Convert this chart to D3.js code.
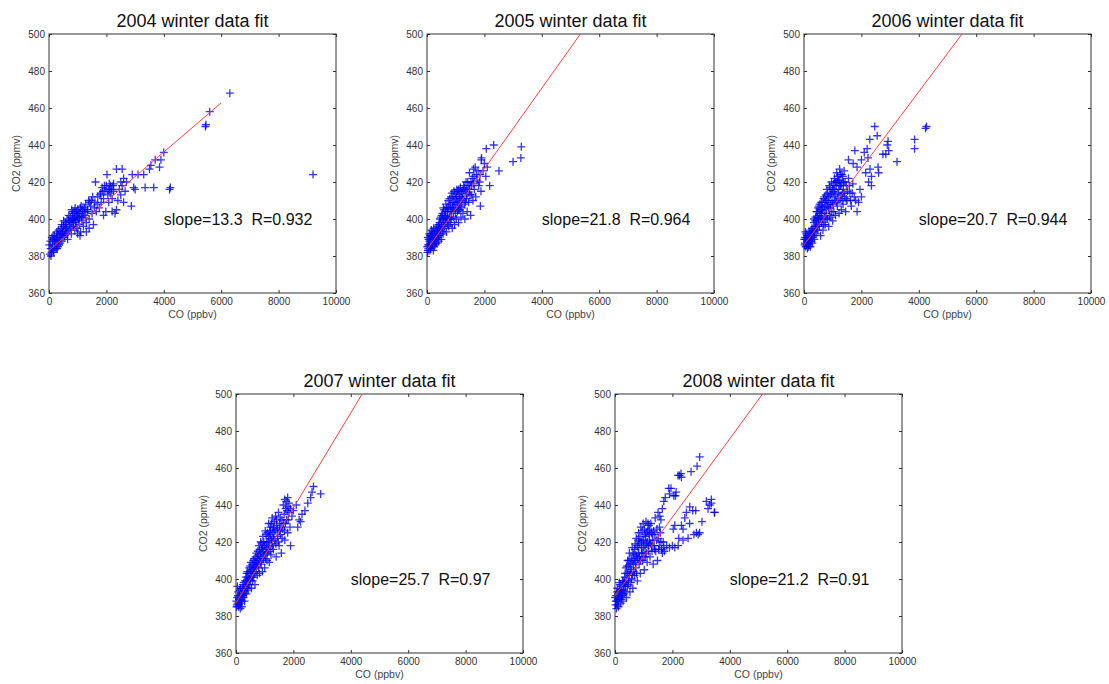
<!DOCTYPE html>
<html>
<head>
<meta charset="utf-8">
<script src="https://cdn.jsdelivr.net/npm/d3@7"></script>
<style>
  html, body { margin: 0; padding: 0; background: #fff; }
  svg { display: block; }
  text { font-family: Arial, "Liberation Sans", sans-serif; }
</style>
</head>
<body>
<svg id="chart" width="1109" height="684"></svg>
<script>
// ---------- DATA ----------
const years = ["2004", "2005", "2006", "2007", "2008"];
const slopes = [13.3, 21.8, 20.7, 25.7, 21.2];
const rValues = ["0.932", "0.964", "0.944", "0.97", "0.91"];
// fit line intercepts (ppmv at CO = 0) and end of the drawn fit (ppbv)
const intercepts = [383, 383.5, 386, 387, 391];
const fitEnds = [6000, 10000, 10000, 10000, 10000];

const xTicks = [0, 2000, 4000, 6000, 8000, 10000];
const yTicks = [360, 380, 400, 420, 440, 460, 480, 500];

const pts2004 = [
  [30,381],[60,384],[90,382],[120,386],[150,383],[180,388],[200,385],[50,388],[100,390],[140,391],
  [230,387],[260,390],[280,384],[300,392],[320,388],[350,386],[380,393],[400,390],[420,395],[450,388],
  [470,392],[500,396],[520,390],[550,394],[580,398],[600,392],[620,396],[650,389],[680,399],[700,394],
  [720,397],[750,401],[780,392],[800,398],[820,403],[850,396],[870,400],[900,404],[920,398],[950,402],
  [970,395],[1000,405],[1020,400],[1050,397],[1080,403],[1100,393],[1120,407],[1150,399],[1180,404],[1200,396],
  [900,394],[1000,392],[1080,391],[1250,402],[1280,408],[1300,398],[1350,405],[1380,410],[1400,400],[1450,407],
  [1500,403],[1520,412],[1550,397],[1600,409],[1620,420],[1650,404],[1700,412],[1400,395],[1300,393],
  [1750,406],[1800,414],[1820,409],[1850,417],[1900,411],[1950,415],[1980,404],[2000,418],[2020,424],[2050,413],
  [2080,409],[2100,416],[2150,418],[2200,411],[2250,415],[2300,403],[2350,405],[1900,402],[2100,419],[2250,419],
  [2200,404],[2350,427],[2550,427],[2400,410],[2450,416],[2500,413],[2550,418],[2600,422],[2650,415],[2700,420],
  [2600,409],[2500,420],[2870,407],[2950,417],[3000,416],[2900,424],[3100,424],[3300,424],[3550,429],[3350,417],
  [3650,417],[3850,428],[3900,432],[4000,436],[3700,432],[3500,427],[4200,416],[4230,417],[5450,450],[5470,451],
  [5600,458],[6300,468],[9200,424],
  [10,386],[70,380],[110,384],[130,389],[170,382],[190,391],[210,389],[250,384],[270,393],[290,388],
  [310,385],[330,394],[360,390],[390,387],[410,392],[440,397],[460,391],[490,393],[510,399],[540,391],
  [560,397],[590,395],[630,400],[660,393],[690,402],[730,399],[760,395],[790,405],[810,400],[840,404],
  [860,398],[890,401],[910,406],[940,399],[960,404],[990,401],[1030,403],[1060,401],[1090,406],[1130,401],
  [1160,405],[1190,401],[1230,406],[1260,404],[1330,404],[1420,409],[1480,410],[1580,406],[1680,408],[1780,413],
  [1880,415],[1930,418],[2060,416],[2130,414],[2180,416],[2230,418]
];
const pts2005 = [
  [20,382],[40,386],[60,389],[80,392],[30,390],[100,383],[120,387],[140,391],[160,385],[180,389],
  [200,393],[220,383],[240,388],[260,392],[280,386],[300,390],[320,395],[340,387],[360,393],[380,389],
  [400,397],[50,384],[150,394],[250,385],
  [420,391],[440,398],[460,394],[480,401],[500,389],[520,396],[540,403],[560,392],[580,399],[600,405],
  [620,395],[640,401],[660,408],[680,393],[700,398],[720,404],[740,410],[760,396],[780,401],[800,407],
  [820,398],[840,412],[860,404],[880,395],[900,409],[920,401],[940,415],[960,397],[980,406],[1000,411],
  [1020,400],[1040,416],[1060,404],[1080,409],[1100,398],[1120,413],[1140,405],[1160,417],[1180,401],[1200,410],
  [1220,414],[1250,403],[1280,418],[1300,408],[1320,400],[1350,415],[1380,411],[1400,404],[1420,420],[1450,409],
  [1480,425],[1500,413],[1520,402],[1550,418],[1580,422],[1600,410],
  [1620,427],[1650,416],[1680,428],[1700,412],[1750,421],[1800,418],[1850,424],[1880,415],[1900,433],[1950,426],
  [1860,407],[2000,430],[2066,438],[2100,428],[2184,418],[2050,423],
  [2324,440],[2509,426],[2997,431],[3270,433],[3286,439],[1893,432],
  [10,385],[30,383],[70,386],[90,388],[110,391],[130,384],[170,392],[190,386],[210,390],[230,395],
  [270,389],[290,393],[310,387],[330,391],[350,396],[370,390],[390,394],[410,388],[430,395],[450,400],
  [470,392],[490,397],[510,402],[530,393],[550,400],[570,406],[590,396],[610,402],[630,398],[650,404],
  [670,400],[690,406],[710,401],[730,397],[750,406],[770,400],[790,411],[810,404],[830,408],[850,400],
  [870,414],[890,406],[910,412],[930,405],[950,409],[970,414],[990,403],[1010,408],[1030,412],[1050,409],
  [1070,415],[1090,405],[1110,416],[1130,409],[1150,412],[1170,407],[1190,415],[1210,406],[1240,411],[1260,416],
  [1290,412],[1310,417],[1340,409],[1360,420],[1390,416],[1430,414],[1460,418],[1490,416],[1530,420],[1560,413],
  [1610,419],[1640,423],[1720,424],[1780,426],[1830,420]
];
const pts2006 = [
  [20,386],[40,390],[60,385],[80,392],[100,388],[120,384],[140,391],[160,387],[180,393],[200,389],
  [220,385],[240,392],[260,388],[280,395],[300,390],[50,393],[150,385],
  [320,394],[340,398],[360,389],[380,396],[400,401],[420,392],[440,399],[460,404],[480,394],[500,400],
  [520,407],[540,396],[560,403],[580,391],[600,409],[620,398],[640,405],[660,394],[680,411],[700,401],
  [720,407],[740,397],[760,413],[780,403],[800,416],[820,400],[840,410],[860,396],[880,418],[900,406],
  [920,413],[940,401],[960,420],[980,409],[1000,399],[1020,415],[1040,404],[1060,422],[1080,410],[1100,402],
  [1120,418],[1140,425],[1160,407],[1180,414],[1200,421],[1220,403],[1240,427],[1260,411],[1280,418],[1300,405],
  [1320,424],[1340,414],[1360,408],[1380,420],[1400,426],[1420,412],[1450,404],[1480,418],[1500,410],[1550,422],
  [1600,414],[1650,407],[1700,419],[1750,412],[1713,430],[1771,437],[1800,410],[1850,404],[1900,409],[2002,412],
  [1550,432],[1950,416],[2100,436],[2200,438],[2292,443],[2250,420],[2350,423],[2350,418],[2465,450],[2550,445],
  [2581,428],[2600,425],[2230,433],[2000,432],[1850,428],[2150,425],[2300,427],
  [2750,435],[2850,435],[2928,442],[2950,437],[2900,440],[3240,431],[3854,443],[3854,438],[4236,449],[4270,450],
  [10,389],[30,387],[70,389],[90,386],[110,391],[130,387],[170,390],[190,386],[210,392],[230,388],
  [250,394],[270,391],[290,387],[310,393],[330,391],[350,400],[370,393],[390,399],[410,396],[430,404],
  [450,396],[470,401],[490,406],[510,397],[530,402],[550,408],[570,400],[590,405],[610,403],[630,409],
  [650,400],[670,406],[690,397],[710,412],[730,403],[750,409],[770,400],[790,410],[810,407],[830,414],
  [850,406],[870,412],[890,402],[910,417],[930,408],[950,414],[970,404],[990,416],[1010,408],[1030,419],
  [1050,412],[1070,416],[1090,420],[1110,413],[1130,409],[1150,420],[1170,423],[1190,410],[1210,416],[1230,421],
  [1250,418],[1270,424],[1290,413],[1310,419],[1330,410],[1350,423],[1370,416],[1390,414],[1430,420],[1470,411],
  [1520,415],[1580,418],[1620,410],[1680,414]
];
const pts2007 = [
  [20,385],[40,390],[60,387],[80,393],[100,386],[120,391],[140,388],[160,395],[180,389],[200,385],
  [220,392],[240,397],[260,390],[280,394],[300,388],[50,396],[150,384],
  [320,396],[340,401],[360,392],[380,399],[400,404],[420,394],[440,400],[460,406],[480,397],[500,403],
  [520,409],[540,395],[560,405],[580,399],[600,410],[620,401],[640,407],[660,397],[680,412],[700,404],
  [720,409],[740,402],[760,415],[780,406],[800,418],[820,403],[840,412],[860,420],[880,408],[900,416],
  [920,404],[940,423],[960,411],[980,418],[1000,406],[1020,426],[1040,414],[1060,420],[1080,410],[1100,425],
  [1120,416],[1140,430],[1160,409],[1180,422],[1200,428],[1220,413],[1240,419],[1260,433],[1280,425],[1300,416],
  [1320,427],[1350,421],[1380,434],[1400,412],[1420,429],[1450,423],[1480,436],[1500,418],[1520,430],[1550,424],
  [1580,414],[1600,432],
  [1620,427],[1650,440],[1680,435],[1700,443],[1720,430],[1750,442],[1780,437],[1800,444],[1820,432],[1850,441],
  [1700,421],[1800,425],[1880,428],[1900,418],[1950,434],[2000,437],[1900,438],
  [2100,440],[2150,428],[2200,432],[2300,435],[2400,437],[2500,441],[2600,444],[2650,447],[2700,450],[2950,446],
  [2250,431],
  [10,388],[30,386],[70,391],[90,385],[110,389],[130,394],[170,387],[190,392],[210,388],[230,395],
  [250,391],[270,398],[290,392],[310,399],[330,393],[350,397],[370,403],[390,395],[410,401],[430,397],
  [450,403],[470,400],[490,407],[510,399],[530,404],[550,401],[570,408],[590,403],[610,406],[630,411],
  [650,403],[670,409],[690,406],[710,414],[730,407],[750,411],[770,408],[790,413],[810,410],[830,416],
  [850,409],[870,414],[890,419],[910,411],[930,417],[950,415],[970,420],[990,413],[1010,418],[1030,411],
  [1050,424],[1070,417],[1090,414],[1110,420],[1130,423],[1150,418],[1170,426],[1190,415],[1210,424],[1230,430],
  [1250,421],[1270,418],[1290,428],[1310,422],[1330,431],[1360,426],[1390,419],[1410,432],[1440,427],[1470,420],
  [1510,426],[1540,433],[1570,428],[1610,422],[1660,430],[1690,426],[1730,438],[1760,432],[1810,439],[1840,436]
];
const pts2008 = [
  [20,386],[40,391],[60,388],[80,395],[100,389],[120,385],[140,393],[160,390],[180,397],[200,387],
  [220,394],[240,391],[260,399],[280,388],[300,396],[50,384],[150,398],
  [320,392],[340,401],[360,396],[380,406],[400,390],[420,403],[440,410],[460,397],[480,407],[500,414],
  [520,393],[540,404],[560,411],[580,400],[600,417],[620,395],[640,408],[660,414],[680,402],[700,419],
  [720,406],[740,422],[760,412],[780,399],[800,417],[820,425],[840,408],[860,419],[880,403],[900,428],
  [920,414],[940,421],[960,410],[980,430],[1000,417],[1020,405],[1040,424],[1060,412],[1080,431],[1100,419],
  [1120,409],[1140,426],[1160,415],[1180,429],[1200,421],
  [1220,412],[1250,430],[1280,418],[1300,424],[1330,408],[1350,426],[1380,416],[1400,433],[1450,421],[1480,410],
  [1500,436],[1520,416],[1550,428],[1600,420],[1650,438],[1700,442],[1700,417],[1650,414],
  [1800,418],[1900,417],[2000,418],[2083,417],[2200,418],[2222,422],[2370,421],[2546,422],
  [2030,427],[2083,429],[2315,429],[2370,427],[2430,433],[2488,436],[2604,439],[2708,437],[2813,437],[2600,430],
  [3030,431],[2750,424],[2836,425],[2900,424],[2950,425],
  [3183,442],[3241,438],[3358,443],[3357,441],[3460,436],[3472,436],[3300,440],
  [1750,444],[1875,449],[1950,449],[1900,446],[2050,445],[2106,445],[2130,447],[2200,456],[2250,456],[2300,457],
  [2315,455],[2650,458],[2860,461],[2950,466],
  [10,390],[30,388],[70,393],[90,386],[110,392],[130,389],[170,394],[190,391],[210,396],[230,389],
  [250,394],[270,392],[290,399],[310,394],[330,398],[350,403],[370,393],[390,399],[410,407],[430,396],
  [450,403],[470,399],[490,410],[510,402],[530,408],[550,398],[570,405],[590,410],[610,402],[630,413],
  [650,404],[670,410],[690,416],[710,409],[730,413],[750,403],[770,418],[790,411],[810,421],[830,414],
  [850,412],[870,423],[890,410],[910,420],[930,417],[950,426],[970,414],[990,421],[1010,412],[1030,427],
  [1050,418],[1070,423],[1090,414],[1110,425],[1130,420],[1150,430],[1170,418],[1190,424],[1210,427],[1240,419],
  [1270,425],[1290,415],[1320,421],[1360,418],[1390,424],[1420,415],[1460,427],[1510,422],[1540,418],[1580,425],
  [1620,416],[1680,420],[1720,415],[1600,432],[1560,434]
];
const pointSets = [pts2004, pts2005, pts2006, pts2007, pts2008];

// ---------- LAYOUT ----------
const panels = [
  {left: 49,  top: 34},
  {left: 427, top: 34},
  {left: 804, top: 34},
  {left: 236, top: 394},
  {left: 615, top: 394}
];
const W = 287, H = 259;

const svg = d3.select("#chart");
svg.append("rect").attr("width", 1109).attr("height", 684).attr("fill", "#fff");

const plus = "M-4,0H4M0,-4V4";

panels.forEach((p, i) => {
  const g = svg.append("g").attr("transform", `translate(${p.left},${p.top})`);
  const x = d3.scaleLinear().domain([0, 10000]).range([0, W]);
  const y = d3.scaleLinear().domain([360, 500]).range([H, 0]);

  // axes (inward ticks)
  const ax = g.append("g").attr("transform", `translate(0,${H})`)
    .call(d3.axisBottom(x).tickValues(xTicks).tickFormat(d3.format("d")).tickSize(-3).tickPadding(5));
  const ay = g.append("g")
    .call(d3.axisLeft(y).tickValues(yTicks).tickFormat(d3.format("d")).tickSize(-3).tickPadding(4));
  const at = g.append("g")
    .call(d3.axisTop(x).tickValues(xTicks).tickFormat("").tickSize(-3));
  const ar = g.append("g").attr("transform", `translate(${W},0)`)
    .call(d3.axisRight(y).tickValues(yTicks).tickFormat("").tickSize(-3));
  [ax, ay, at, ar].forEach(a => {
    a.select(".domain").remove();
    a.selectAll(".tick line").attr("stroke", "#333");
    a.selectAll(".tick text").attr("fill", "#333").style("font-size", "10px")
      .style("font-family", "Arial, 'Liberation Sans', sans-serif");
  });

  // frame
  g.append("rect").attr("x", 0).attr("y", 0).attr("width", W).attr("height", H)
    .attr("fill", "none").attr("stroke", "#333").attr("stroke-width", 1);

  // points
  g.append("g").selectAll("path").data(pointSets[i]).join("path")
    .attr("d", plus)
    .attr("transform", d => `translate(${x(d[0])},${y(d[1])})`)
    .attr("fill", "none").attr("stroke", "#0000ff").attr("stroke-width", 1.3)
    .attr("stroke-opacity", 0.8);

  // fit line
  const b = intercepts[i], m = slopes[i] / 1000;
  const xEndTop = (500 - b) / m;
  const xe = Math.min(fitEnds[i], xEndTop);
  g.append("line")
    .attr("x1", x(0)).attr("y1", y(b))
    .attr("x2", x(xe)).attr("y2", y(b + m * xe))
    .attr("stroke", "#ff4040").attr("stroke-width", 1);

  // annotation
  g.append("text")
    .attr("x", x(4000)).attr("y", y(400))
    .attr("dominant-baseline", "central")
    .style("white-space", "pre")
    .style("font-size", "16px").attr("fill", "#111")
    .text(`slope=${slopes[i]}  R=${rValues[i]}`);

  // title
  g.append("text").attr("x", W / 2).attr("y", -7)
    .attr("text-anchor", "middle").style("font-size", "18px").attr("fill", "#111")
    .text(`${years[i]} winter data fit`);

  // axis labels
  g.append("text").attr("x", W / 2).attr("y", H + 25)
    .attr("text-anchor", "middle").style("font-size", "10.5px").attr("fill", "#444")
    .text("CO (ppbv)");
  g.append("text")
    .attr("transform", `translate(-33,${H / 2}) rotate(-90)`)
    .attr("text-anchor", "middle").attr("dominant-baseline", "central")
    .style("font-size", "10.5px").attr("fill", "#444")
    .text("CO2 (ppmv)");
});
</script>
</body>
</html>
